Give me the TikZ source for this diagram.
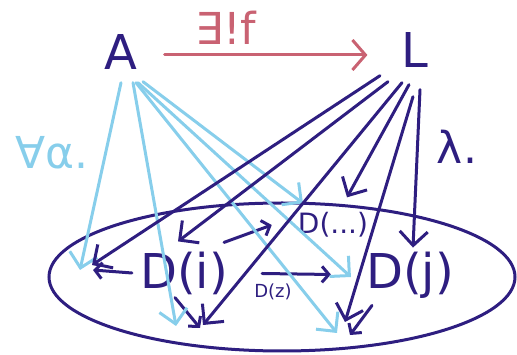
\documentclass[tikz,border=0pt]{standalone}
\usepackage{fontspec}
\setmainfont{DejaVu Sans}
\usetikzlibrary{arrows.meta}

\definecolor{inkDark}{RGB}{46,30,128}
\definecolor{inkLight}{RGB}{135,206,235}
\definecolor{inkRed}{RGB}{201,98,114}

\begin{document}
\begin{tikzpicture}[x=1pt,y=-1pt]
      \useasboundingbox (0,0) rectangle (517,355);

      \tikzstyle{obj} = [
        text=inkDark,
        inner sep=0pt,
        font=\fontsize{48}{48}\selectfont
      ]
      \tikzstyle{smallobj} = [obj, font=\fontsize{28}{28}\selectfont]
      \tikzstyle{tinylabel} = [obj, font=\fontsize{18}{18}\selectfont]
      \tikzstyle{conelabel} = [inner sep=0pt, font=\fontsize{44}{44}\selectfont]

      \tikzstyle{arrow} = [line width=3pt, line cap=round, line join=round, -{Straight Barb[length=14pt,width=28pt]}]
      \tikzstyle{alphaArrow} = [arrow, draw=inkLight]
      \tikzstyle{lambdaArrow} = [arrow, draw=inkDark]
      \tikzstyle{mapArrow} = [line width=3pt, line cap=round, draw=inkDark, -{Straight Barb[length=7pt,width=16pt]}]
      \tikzstyle{uniqueArrow} = [line width=3pt, line cap=round, draw=inkRed, -{Straight Barb[length=13pt,width=30pt]}]

      % apex and limit
      \node[obj] (objA) at (121,52) {A};
      \node[obj] (objL) at (415,50) {L};

      % unique map
      \draw[uniqueArrow] ([xshift=27pt,yshift=-3pt] objA.east) -- ([xshift=-34pt,yshift=-5pt] objL.west);
      \node[conelabel,text=inkRed] (labelF) at (226,28) {∃!f};

      % diagram
      \draw[draw=inkDark,line width=3pt] (282,277) ellipse [x radius=233pt, y radius=74pt];
      \node[obj] (objDi) at (184,273) {D(i)};
      \node[obj] (objDj) at (410,275) {D(j)};
      \node[smallobj] (objDdots) at (333,225) {D(...)};
      \coordinate (objX) at (88,270);
      \coordinate (objY) at (190,328);
      \coordinate (objZ) at (345,330);

      % diagram maps
      \draw[mapArrow] ([xshift=-8pt] objDi.west) -- ([xshift=5pt] objX);
      \draw[mapArrow] ([xshift=-4pt,yshift=9pt] objDi.north east) -- ([xshift=-26pt] objDdots.west);
      \draw[mapArrow] (objDi.east) -- (objDj.west) [shorten <=34pt, shorten >=35pt];
      \node[tinylabel] (labelDz) at (273,292) {D(z)};
      \draw[mapArrow] ([xshift=-9pt,yshift=-3pt] objDi.south) -- ([xshift=10pt] objY);
      \draw[mapArrow] ([xshift=-38pt,yshift=-7pt] objDj.south) -- ([xshift=5pt,yshift=-5pt] objZ);

      % cone alpha
      \draw[alphaArrow] ([yshift=-13pt] objA.south) -- ([xshift=-8pt] objX);
      \draw[alphaArrow] ([xshift=12pt,yshift=-13pt] objA.south) -- ([xshift=-14pt,yshift=2pt] objY);
      \draw[alphaArrow] ([xshift=15pt,yshift=-13pt] objA.south) -- ([xshift=-8pt,yshift=-3pt] objZ);
      \draw[alphaArrow] ([xshift=17pt,yshift=-13pt] objA.south) -- ([xshift=-15pt,yshift=-2pt] objDj.west);
      \draw[alphaArrow] ([xshift=22pt,yshift=-12pt] objA.south) -- ([xshift=-30pt,yshift=9pt] objDdots.north);
      \node[conelabel,text=inkLight] (labelAlpha) at (52,153) {∀α.};

      % cone lambda
      \draw[lambdaArrow] ([xshift=-35pt,yshift=-8pt] objL.south) -- ([xshift=4pt,yshift=5pt] objX);
      \draw[lambdaArrow] ([xshift=-27pt,yshift=-14pt] objL.south) -- ([xshift=-6pt,yshift=10pt] objDi.north);
      \draw[lambdaArrow] ([xshift=-13pt,yshift=-15pt] objL.south) -- ([xshift=13pt,yshift=3pt] objY);
      \draw[lambdaArrow] ([xshift=-6pt,yshift=-17pt] objL.south) -- ([xshift=14pt,yshift=15pt] objDdots.north);
      \draw[lambdaArrow] ([xshift=-2pt,yshift=-29pt] objL.south) -- ([yshift=8pt] objZ);
      \draw[lambdaArrow] ([xshift=5pt,yshift=-22pt] objL.south) -- ([xshift=3pt,yshift=4pt] objDj.north);
      \node[conelabel,text=inkDark] (labelLambda) at (457,147) {λ.};
    \end{tikzpicture}
\end{document}
